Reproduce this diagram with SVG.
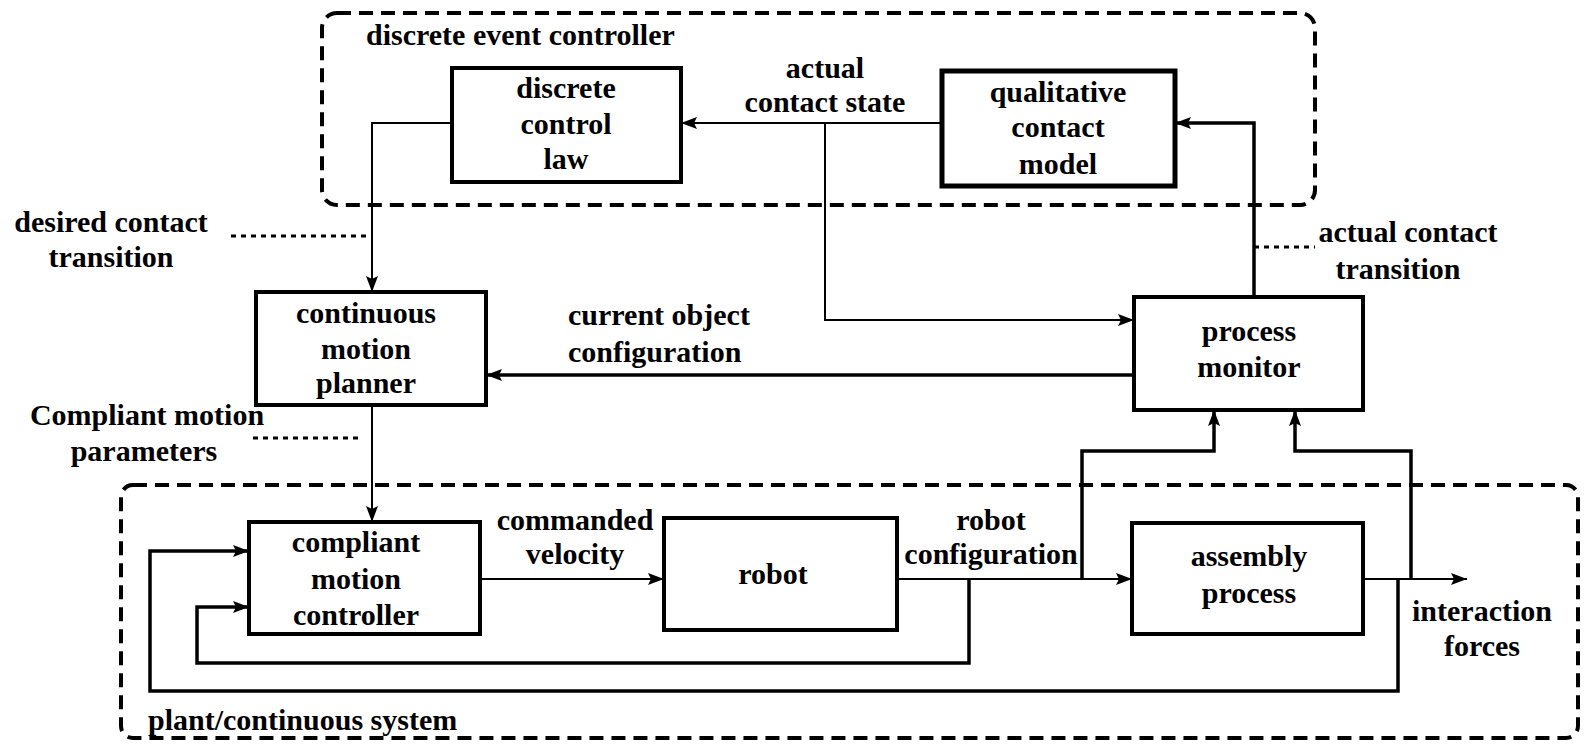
<svg xmlns="http://www.w3.org/2000/svg" width="1586" height="744" viewBox="0 0 1586 744">
<style>
text{font-family:"Liberation Serif","Times New Roman",serif;font-weight:bold;font-size:30px;fill:#000}
.c{text-anchor:middle}
.box{fill:#fff;stroke:#000;stroke-width:4}
.grp{fill:none;stroke:#000;stroke-width:4;stroke-dasharray:14 8}
.ln{fill:none;stroke:#000;stroke-width:2}
.lt{fill:none;stroke:#000;stroke-width:3.5}
.dot{fill:none;stroke:#000;stroke-width:3;stroke-dasharray:5 5}
</style>
<defs>
<marker id="ah" markerUnits="userSpaceOnUse" markerWidth="18" markerHeight="14" refX="16" refY="7" orient="auto">
<path d="M0,1 L16,7 L0,13 L3,7 Z" fill="#000"/>
</marker>
</defs>
<rect width="1586" height="744" fill="#fff"/>
<g id="groups">
<rect class="grp" x="322" y="13" width="993" height="192" rx="15"/>
<rect class="grp" x="121" y="485" width="1457" height="253" rx="12"/>
<text x="366" y="45">discrete event controller</text>
<text x="148" y="730">plant/continuous system</text>
</g>
<g id="connectors">
<path class="ln" d="M942,123 H681" marker-end="url(#ah)"/>
<path class="ln" d="M825,123 V320 H1134" marker-end="url(#ah)"/>
<path class="ln" d="M452,123 H372 V292" marker-end="url(#ah)"/>
<path class="lt" d="M1254,297 V123 H1175" marker-end="url(#ah)"/>
<path class="lt" d="M1134,375 H486" marker-end="url(#ah)"/>
<path class="ln" d="M372,405 V522" marker-end="url(#ah)"/>
<path class="ln" d="M480,579 H664" marker-end="url(#ah)"/>
<path class="ln" d="M897,579 H1132" marker-end="url(#ah)"/>
<path class="lt" d="M1082,579 V451 H1214 V410" marker-end="url(#ah)"/>
<path class="ln" d="M1363,579 H1467" marker-end="url(#ah)"/>
<path class="lt" d="M1411,579 V451 H1295 V410" marker-end="url(#ah)"/>
<path class="lt" d="M969,579 V663 H197 V607 H249" marker-end="url(#ah)"/>
<path class="lt" d="M1398,579 V691 H150 V551 H249" marker-end="url(#ah)"/>
<path class="dot" d="M231,236 H372"/>
<path class="dot" d="M253,438 H360"/>
<path class="dot" d="M1254,247 H1315"/>
<text class="c" x="825" y="78">actual</text>
<text class="c" x="825" y="112">contact state</text>
<text class="c" x="111" y="232">desired contact</text>
<text class="c" x="111" y="267">transition</text>
<text class="c" x="1408" y="242">actual contact</text>
<text class="c" x="1398" y="279">transition</text>
<text x="568" y="325">current object</text>
<text x="568" y="362">configuration</text>
<text class="c" x="147" y="425">Compliant motion</text>
<text class="c" x="144" y="461">parameters</text>
<text class="c" x="575" y="530">commanded</text>
<text class="c" x="575" y="564">velocity</text>
<text class="c" x="991" y="530">robot</text>
<text class="c" x="991" y="564">configuration</text>
<text class="c" x="1482" y="621">interaction</text>
<text class="c" x="1482" y="656">forces</text>
</g>
<g id="discrete-control-law">
<rect class="box" x="452" y="68" width="229" height="114"/>
<text class="c" x="566" y="98">discrete</text>
<text class="c" x="566" y="134">control</text>
<text class="c" x="566" y="169">law</text>
</g>
<g id="qualitative-contact-model">
<rect class="box" x="942" y="71" width="233" height="115" style="stroke-width:5"/>
<text class="c" x="1058" y="102">qualitative</text>
<text class="c" x="1058" y="137">contact</text>
<text class="c" x="1058" y="174">model</text>
</g>
<g id="continuous-motion-planner">
<rect class="box" x="256" y="292" width="230" height="113"/>
<text class="c" x="366" y="323">continuous</text>
<text class="c" x="366" y="359">motion</text>
<text class="c" x="366" y="393">planner</text>
</g>
<g id="process-monitor">
<rect class="box" x="1134" y="297" width="229" height="113"/>
<text class="c" x="1249" y="341">process</text>
<text class="c" x="1249" y="377">monitor</text>
</g>
<g id="compliant-motion-controller">
<rect class="box" x="249" y="522" width="231" height="112"/>
<text class="c" x="356" y="552">compliant</text>
<text class="c" x="356" y="589">motion</text>
<text class="c" x="356" y="625">controller</text>
</g>
<g id="robot">
<rect class="box" x="664" y="518" width="233" height="112"/>
<text class="c" x="773" y="584">robot</text>
</g>
<g id="assembly-process">
<rect class="box" x="1132" y="523" width="231" height="111"/>
<text class="c" x="1249" y="566">assembly</text>
<text class="c" x="1249" y="603">process</text>
</g>
</svg>
